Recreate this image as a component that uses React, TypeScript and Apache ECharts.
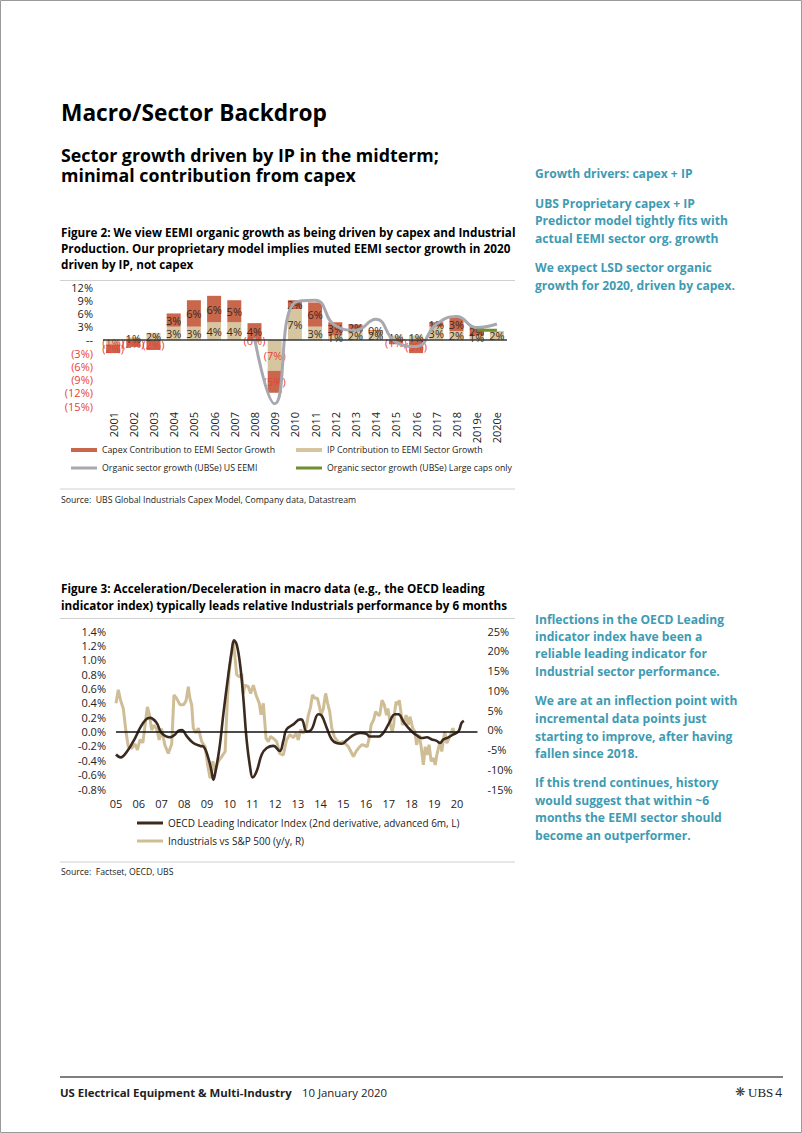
import React, { useEffect, useRef } from "react";
import * as echarts from "echarts";

// ---------- Figure 2 data ----------
const years = ["2001", "2002", "2003", "2004", "2005", "2006", "2007", "2008", "2009", "2010", "2011", "2012", "2013", "2014", "2015", "2016", "2017", "2018", "2019e", "2020e"];
const capexContribution = [-2, -1.6, -2.3, 3, 6, 6, 5, 3.8, -5, 2, 5.5, 3, 1.5, 0.2, -1, -3, 1, 3, 2, null];
const ipContribution = [-1, 0.6, 1.6, 3, 3, 4, 4, -0.3, -7, 7, 3, 1, 2, 2, 1, 1, 3, 2, 1, 2];
const organicUsEemi = [null, null, null, null, null, null, null, 0.5, -14.5, 8.5, 9, 3.2, 2.2, 4.7, -0.5, -1.5, 3.5, 5.3, 2.8, 3.6];
const organicLargeCaps = [null, null, null, null, null, null, null, null, null, null, null, null, null, null, null, null, null, null, 2.2, 2.2];

// ---------- Figure 3 data ----------
const oecdDates = [2005.0, 2005.2, 2005.5, 2005.84, 2006.06, 2006.32, 2006.5, 2006.79, 2007.0, 2007.38, 2007.6, 2007.74, 2007.9, 2008.1, 2008.4, 2008.7, 2008.85, 2009.06, 2009.2, 2009.28, 2009.35, 2009.55, 2009.72, 2009.94, 2010.09, 2010.19, 2010.31, 2010.46, 2010.6, 2010.75, 2010.9, 2011.01, 2011.19, 2011.41, 2011.63, 2011.92, 2012.2, 2012.36, 2012.5, 2012.8, 2013.1, 2013.2, 2013.39, 2013.6, 2013.9, 2014.05, 2014.27, 2014.49, 2014.7, 2014.93, 2015.15, 2015.44, 2015.74, 2016.0, 2016.17, 2016.54, 2016.76, 2016.98, 2017.27, 2017.42, 2017.64, 2017.86, 2018.08, 2018.22, 2018.45, 2018.67, 2018.89, 2019.1, 2019.25, 2019.4, 2019.62, 2019.84, 2020.06, 2020.2, 2020.3];
const oecdValues = [-0.32, -0.36, -0.27, -0.09, 0.05, 0.17, 0.19, 0.12, -0.02, -0.08, -0.04, 0.01, 0.02, -0.06, -0.16, -0.2, -0.21, -0.37, -0.55, -0.67, -0.6, -0.23, 0.24, 0.79, 1.12, 1.27, 1.21, 0.93, 0.47, -0.13, -0.5, -0.64, -0.55, -0.32, -0.23, -0.2, -0.27, -0.13, 0.03, 0.1, 0.17, 0.16, 0.0, 0.03, 0.24, 0.22, 0.05, -0.11, -0.16, -0.17, -0.12, -0.05, -0.02, -0.03, -0.07, -0.07, -0.02, 0.1, 0.24, 0.24, 0.14, 0.05, -0.02, -0.05, -0.09, -0.08, -0.11, -0.13, -0.16, -0.11, -0.08, -0.04, 0.0, 0.12, 0.15];

const relDates = [2005.0, 2005.1, 2005.2, 2005.32, 2005.44, 2005.54, 2005.69, 2005.84, 2005.94, 2006.06, 2006.18, 2006.28, 2006.38, 2006.47, 2006.57, 2006.67, 2006.8, 2006.9, 2007.0, 2007.15, 2007.3, 2007.45, 2007.55, 2007.66, 2007.82, 2007.97, 2008.08, 2008.18, 2008.25, 2008.33, 2008.4, 2008.52, 2008.62, 2008.77, 2008.92, 2009.03, 2009.14, 2009.26, 2009.36, 2009.5, 2009.65, 2009.8, 2009.9, 2009.98, 2010.09, 2010.16, 2010.24, 2010.31, 2010.43, 2010.53, 2010.6, 2010.67, 2010.82, 2010.92, 2011.04, 2011.16, 2011.3, 2011.38, 2011.48, 2011.6, 2011.7, 2011.8, 2011.92, 2012.07, 2012.2, 2012.36, 2012.5, 2012.65, 2012.8, 2012.92, 2013.02, 2013.12, 2013.24, 2013.36, 2013.46, 2013.56, 2013.64, 2013.76, 2013.86, 2013.95, 2014.02, 2014.12, 2014.22, 2014.31, 2014.4, 2014.49, 2014.6, 2014.7, 2014.83, 2014.97, 2015.07, 2015.22, 2015.33, 2015.44, 2015.56, 2015.66, 2015.81, 2015.95, 2016.05, 2016.15, 2016.22, 2016.33, 2016.42, 2016.54, 2016.6, 2016.7, 2016.8, 2016.9, 2016.96, 2017.07, 2017.15, 2017.22, 2017.25, 2017.32, 2017.4, 2017.46, 2017.53, 2017.6, 2017.67, 2017.76, 2017.86, 2017.93, 2018.05, 2018.15, 2018.22, 2018.34, 2018.43, 2018.52, 2018.6, 2018.68, 2018.77, 2018.86, 2018.96, 2019.04, 2019.11, 2019.18, 2019.26, 2019.33, 2019.4, 2019.46, 2019.55, 2019.65, 2019.74, 2019.82, 2019.9];
const relValues = [6.7, 10.1, 7.5, 5.4, -0.5, -4.3, -4.7, -3.6, -5.1, -2.5, -3.3, 1.2, 5.8, 3.8, -0.1, 1.2, 0, -2.6, 0.3, -3.9, -6, -3.6, 8.8, 8, 6.3, 6.3, 7.3, 10.9, 8, 6.3, 0.4, -0.8, 0.4, -3, -4.3, -8.9, -12.3, -8, -10.5, -8, -6.8, -5.5, 8, 14.7, 19.8, 22.3, 18, 13.9, 13.4, 14.2, 9.2, 11.3, 10.9, 9.2, 11.3, 8.8, 6.7, 3.8, 6.7, -2.2, -3, -1.7, -2.2, -3, -6, -6.4, -2.6, -1.2, -2, -0.9, -2.6, 0, -0.9, 0.4, 3.7, 5.8, 8.8, 8, 8, 5.8, 3.7, 5.4, 9.2, 6.7, 4.6, 0.4, -1.7, -2.6, -3.4, -3, -3.4, -4.3, -5.5, -6.8, -5.5, -4.7, -3.8, -4, -4.3, -1.7, 1.2, 2.5, 4.6, 3.7, 3.7, 7.5, 6.3, 3.7, 5.4, 1.2, -0.5, 1.6, 4.2, 7.1, 6.3, 7.5, 4.6, 1.2, 2.1, 3.7, 1.2, 3.3, 0.4, -0.5, -3.8, -1.3, -4.7, -8.9, -4.3, -6.4, -3.8, -8, -7.2, -8.9, -6.4, -4.7, -3, -5.5, -2.6, -0.5, -3.4, -2.1, -0.9, 0.4, -1.3];

const FONT = "Open Sans";
const TEAL = "#3E9BB4";
const RED = "#E8413A";
const DARK = "#222222";
const CAPEX_C = "#C8674C";
const IP_C = "#D6C6A0";
const GRAY_C = "#A8A8B0";
const GREEN_C = "#6F8F2E";
const OECD_C = "#3B2A20";
const REL_C = "#CFBD96";

function txt(x: number, y: number, text: string, size: number, opts: any = {}) {
  return {
    type: "text",
    x,
    y,
    silent: true,
    style: {
      text,
      fill: opts.color || "#000",
      fontSize: size,
      fontWeight: opts.weight || "normal",
      fontFamily: opts.family || FONT,
      align: opts.align || "left",
      verticalAlign: "middle",
    },
  };
}
function hline(x1: number, x2: number, y: number, color: string, w: number) {
  return { type: "line", silent: true, shape: { x1, y1: y, x2, y2: y }, style: { stroke: color, lineWidth: w } };
}

const pctLabel = (v: number) => (v < 0 ? `(${Math.round(Math.abs(v))}%)` : `${Math.round(v)}%`);

function barData(arr: (number | null)[]) {
  return arr.map((v) =>
    v === null ? null : { value: v, label: { color: v < 0 ? RED : "#3A2A1E" } }
  );
}

export default function App() {
  const ref = useRef<HTMLDivElement>(null);
  useEffect(() => {
    document.body.style.margin = "0";
    const chart = echarts.init(ref.current!, null, { renderer: "svg" });

    const teal = (y: number, s: string) => txt(535, y, s, 12.1, { color: TEAL, weight: "bold" });
    const CAP = 11.7;
    const graphic: any[] = [
      { type: "rect", silent: true, shape: { x: 0.5, y: 0.5, width: 801, height: 1132 }, style: { fill: "none", stroke: "#9A9A9A", lineWidth: 1 } },
      txt(61, 112, "Macro/Sector Backdrop", 22.7, { weight: "bold" }),
      txt(61, 155, "Sector growth driven by IP in the midterm;", 17.8, { weight: "bold" }),
      txt(61, 175, "minimal contribution from capex", 17.8, { weight: "bold" }),
      txt(61, 232, "Figure 2: We view EEMI organic growth as being driven by capex and Industrial", CAP, { weight: "bold" }),
      txt(61, 248, "Production. Our proprietary model implies muted EEMI sector growth in 2020", CAP, { weight: "bold" }),
      txt(61, 264, "driven by IP, not capex", CAP, { weight: "bold" }),
      hline(60, 515, 280.5, "#D0D0D0", 1),
      hline(60, 515, 489, "#D0D0D0", 1),
      txt(61, 500, "Source:  UBS Global Industrials Capex Model, Company data, Datastream", 8.7, { color: "#222" }),
      teal(173, "Growth drivers: capex + IP"),
      teal(203, "UBS Proprietary capex + IP"),
      teal(220, "Predictor model tightly fits with"),
      teal(238, "actual EEMI sector org. growth"),
      teal(267, "We expect LSD sector organic"),
      teal(285, "growth for 2020, driven by capex."),
      txt(61, 588, "Figure 3: Acceleration/Deceleration in macro data (e.g., the OECD leading", CAP, { weight: "bold" }),
      txt(61, 605, "indicator index) typically leads relative Industrials performance by 6 months", CAP, { weight: "bold" }),
      hline(60, 515, 618.5, "#D0D0D0", 1),
      hline(60, 515, 862, "#D0D0D0", 1),
      txt(61, 872, "Source:  Factset, OECD, UBS", 8.7, { color: "#222" }),
      teal(619, "Inflections in the OECD Leading"),
      teal(636, "indicator index have been a"),
      teal(653, "reliable leading indicator for"),
      teal(671, "Industrial sector performance."),
      teal(700, "We are at an inflection point with"),
      teal(718, "incremental data points just"),
      teal(736, "starting to improve, after having"),
      teal(753, "fallen since 2018."),
      teal(782, "If this trend continues, history"),
      teal(800, "would suggest that within ~6"),
      teal(817, "months the EEMI sector should"),
      teal(835, "become an outperformer."),
      hline(60, 783, 1077, "#555555", 1.5),
      txt(60, 1092, "US Electrical Equipment & Multi-Industry", 11.4, { weight: "bold", color: "#222" }),
      txt(302, 1092, "10 January 2020", 11.4, { color: "#222" }),
      txt(735, 1092, "❋", 12, { color: "#333", family: "DejaVu Sans" }),
      txt(748, 1092, "UBS", 13, { color: "#222", family: "Liberation Serif" }),
      txt(782, 1092, "4", 12, { color: "#222", align: "right" }),
    ];

    const legendBase = (name: string, left: number, top: number, fs: number, w: number, h: number) => ({
      data: [name],
      left,
      top,
      orient: "horizontal",
      icon: "rect",
      itemWidth: w,
      itemHeight: h,
      padding: 0,
      selectedMode: false,
      textStyle: { fontSize: fs, color: "#222", fontFamily: FONT },
    });

    const option: any = {
      animation: false,
      textStyle: { fontFamily: FONT },
      graphic,
      legend: [
        legendBase("Capex Contribution to EEMI Sector Growth", 71, 445.5, 8.75, 26, 4),
        legendBase("IP Contribution to EEMI Sector Growth", 296, 445.5, 8.75, 26, 4),
        legendBase("Organic sector growth (UBSe) US EEMI", 71, 463.5, 8.75, 26, 3),
        legendBase("Organic sector growth (UBSe) Large caps only", 296, 463.5, 8.75, 26, 3),
        legendBase("OECD Leading Indicator Index (2nd derivative, advanced 6m, L)", 137, 818, 10, 26, 3),
        legendBase("Industrials vs S&P 500 (y/y, R)", 137, 836, 10, 26, 3),
      ],
      grid: [
        { left: 103, top: 287, width: 404, height: 119 },
        { left: 116, top: 631, width: 361.5, height: 158 },
      ],
      xAxis: [
        {
          gridIndex: 0,
          type: "category",
          data: years,
          axisLine: { show: false },
          axisTick: { show: false },
          splitLine: { show: false },
          axisLabel: { rotate: 90, fontSize: 11, color: DARK, margin: 6, interval: 0, fontFamily: FONT },
        },
        {
          gridIndex: 1,
          type: "value",
          min: 2005,
          max: 2020.9,
          interval: 1,
          axisLine: { show: false },
          axisTick: { show: false },
          splitLine: { show: false },
          axisLabel: {
            fontSize: 11,
            color: DARK,
            margin: 9,
            fontFamily: FONT,
            showMaxLabel: false,
            formatter: (v: number) => (Math.abs(v - Math.round(v)) < 1e-6 ? String(Math.round(v)).slice(2) : ""),
          },
        },
      ],
      yAxis: [
        {
          gridIndex: 0,
          type: "value",
          min: -15,
          max: 12,
          interval: 3,
          axisLine: { show: false },
          axisTick: { show: false },
          splitLine: { show: false },
          axisLabel: {
            fontSize: 11,
            margin: 10,
            fontFamily: FONT,
            formatter: (v: number) => {
              const r = Math.round(v);
              if (r === 0) return "{pos|--}";
              return r < 0 ? `{neg|(${Math.abs(r)}%)}` : `{pos|${r}%}`;
            },
            rich: {
              pos: { color: DARK, fontSize: 11, fontFamily: FONT },
              neg: { color: RED, fontSize: 11, fontFamily: FONT },
            },
          },
        },
        {
          gridIndex: 1,
          type: "value",
          position: "left",
          min: -0.8,
          max: 1.4,
          interval: 0.2,
          axisLine: { show: false },
          axisTick: { show: false },
          splitLine: { show: false },
          axisLabel: {
            fontSize: 11,
            color: DARK,
            margin: 10,
            fontFamily: FONT,
            formatter: (v: number) => (Math.abs(v) < 1e-9 ? "0.0%" : v.toFixed(1) + "%"),
          },
        },
        {
          gridIndex: 1,
          type: "value",
          position: "right",
          min: -15,
          max: 25,
          interval: 5,
          axisLine: { show: false },
          axisTick: { show: false },
          splitLine: { show: false },
          axisLabel: {
            fontSize: 11,
            color: DARK,
            margin: 10,
            fontFamily: FONT,
            formatter: (v: number) => `${Math.round(v)}%`,
          },
        },
      ],
      series: [
        {
          name: "IP Contribution to EEMI Sector Growth",
          type: "bar",
          xAxisIndex: 0,
          yAxisIndex: 0,
          stack: "contrib",
          barWidth: 14,
          itemStyle: { color: IP_C },
          data: barData(ipContribution),
          label: {
            show: true,
            position: "inside",
            fontSize: 11,
            fontFamily: FONT,
            formatter: (p: any) => pctLabel(p.value),
          },
          z: 2,
        },
        {
          name: "Capex Contribution to EEMI Sector Growth",
          type: "bar",
          xAxisIndex: 0,
          yAxisIndex: 0,
          stack: "contrib",
          barWidth: 14,
          itemStyle: { color: CAPEX_C },
          data: barData(capexContribution),
          label: {
            show: true,
            position: "inside",
            fontSize: 11,
            fontFamily: FONT,
            formatter: (p: any) => pctLabel(p.value),
          },
          markLine: {
            silent: true,
            symbol: "none",
            label: { show: false },
            lineStyle: { color: "#3A3A3A", width: 1.5, type: "solid" },
            data: [{ yAxis: 0 }],
          },
          z: 2,
        },
        {
          name: "Organic sector growth (UBSe) US EEMI",
          type: "line",
          xAxisIndex: 0,
          yAxisIndex: 0,
          smooth: 0.5,
          symbol: "none",
          connectNulls: false,
          lineStyle: { color: GRAY_C, width: 3 },
          itemStyle: { color: GRAY_C },
          data: organicUsEemi,
          z: 3,
        },
        {
          name: "Organic sector growth (UBSe) Large caps only",
          type: "line",
          xAxisIndex: 0,
          yAxisIndex: 0,
          symbol: "none",
          lineStyle: { color: GREEN_C, width: 3 },
          itemStyle: { color: GREEN_C },
          data: organicLargeCaps,
          z: 4,
        },
        {
          name: "Industrials vs S&P 500 (y/y, R)",
          type: "line",
          xAxisIndex: 1,
          yAxisIndex: 2,
          symbol: "none",
          lineStyle: { color: REL_C, width: 3 },
          itemStyle: { color: REL_C },
          data: relDates.map((d, i) => [d, relValues[i]]),
          z: 2,
        },
        {
          name: "OECD Leading Indicator Index (2nd derivative, advanced 6m, L)",
          type: "line",
          xAxisIndex: 1,
          yAxisIndex: 1,
          smooth: 0.4,
          symbol: "none",
          lineStyle: { color: OECD_C, width: 2.6 },
          itemStyle: { color: OECD_C },
          data: oecdDates.map((d, i) => [d, oecdValues[i]]),
          markLine: {
            silent: true,
            symbol: "none",
            label: { show: false },
            lineStyle: { color: "#111", width: 1.5, type: "solid" },
            data: [{ yAxis: 0 }],
          },
          z: 3,
        },
      ],
    };
    chart.setOption(option);
    return () => chart.dispose();
  }, []);
  return <div ref={ref} style={{ position: "absolute", left: 0, top: 0, width: 802, height: 1133 }} />;
}
